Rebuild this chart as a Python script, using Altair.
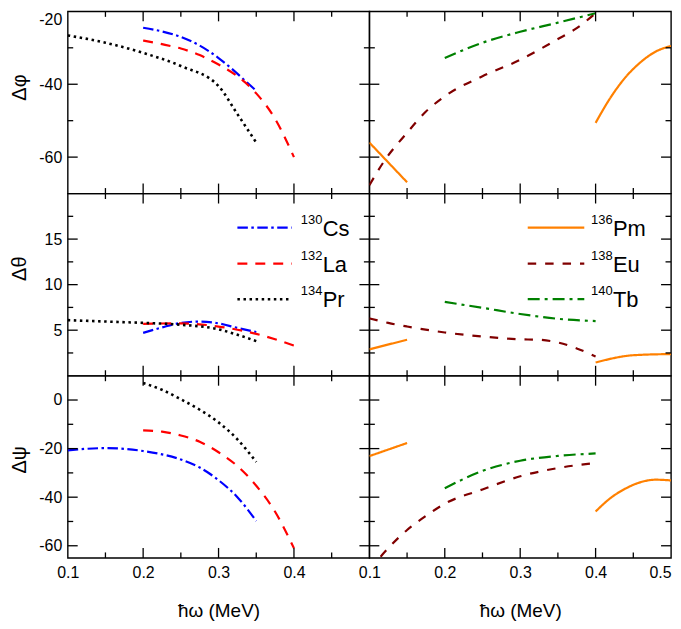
import altair as alt
import pandas as pd

FONT = "Liberation Sans"

# ---------------- axes / ticks ----------------
X_DOMAIN = [0.1, 0.5]
X_MAJOR = [0.2, 0.3, 0.4]
X_MINOR = [0.15, 0.25, 0.35, 0.45]
X_LABELS_LEFT = [0.1, 0.2, 0.3, 0.4]
X_LABELS_RIGHT = [0.1, 0.2, 0.3, 0.4, 0.5]

# ---------------- Δφ ----------------
phi_Cs_x = [0.20, 0.225, 0.25, 0.275, 0.30, 0.32, 0.335, 0.35]
phi_Cs_y = [-24.5, -25.5, -27.0, -29.4, -32.8, -36.2, -39.0, -41.8]
phi_La_x = [0.20, 0.225, 0.25, 0.275, 0.30, 0.325, 0.35, 0.375, 0.40]
phi_La_y = [-28.0, -29.0, -30.2, -32.0, -34.6, -37.8, -42.5, -49.5, -60.0]
phi_Pr_x = [0.10, 0.15, 0.20, 0.25, 0.30, 0.325, 0.35]
phi_Pr_y = [-26.6, -28.6, -31.4, -35.0, -40.5, -48.2, -56.0]
phi_Pm_a_x = [0.10, 0.15]
phi_Pm_a_y = [-56.0, -66.9]
phi_Pm_b_x = [0.40, 0.42, 0.44, 0.46, 0.48, 0.50]
phi_Pm_b_y = [-50.6, -43.6, -38.0, -33.9, -31.0, -29.5]
phi_Eu_x = [0.10, 0.12, 0.15, 0.175, 0.20, 0.25, 0.30, 0.35, 0.375, 0.40]
phi_Eu_y = [-67.7, -61.0, -53.3, -47.5, -43.3, -37.8, -33.3, -27.6, -24.6, -20.5]
phi_Tb_x = [0.20, 0.25, 0.30, 0.35, 0.40]
phi_Tb_y = [-32.8, -28.6, -25.6, -23.1, -20.5]

# ---------------- Δθ ----------------
th_Cs_x = [0.20, 0.225, 0.25, 0.275, 0.30, 0.325, 0.35]
th_Cs_y = [4.7, 5.3, 5.8, 5.95, 5.75, 5.25, 4.8]
th_La_x = [0.20, 0.25, 0.30, 0.325, 0.35, 0.375, 0.40]
th_La_y = [5.7, 5.75, 5.4, 5.05, 4.6, 4.0, 3.3]
th_Pr_x = [0.10, 0.15, 0.20, 0.25, 0.30, 0.325, 0.35]
th_Pr_y = [6.1, 5.95, 5.8, 5.6, 5.1, 4.5, 3.8]
th_Pm_a_x = [0.10, 0.15]
th_Pm_a_y = [2.9, 3.95]
th_Pm_b_x = [0.40, 0.45, 0.50]
th_Pm_b_y = [1.45, 2.25, 2.38]
th_Eu_x = [0.10, 0.125, 0.15, 0.20, 0.25, 0.30, 0.325, 0.35, 0.375, 0.40]
th_Eu_y = [6.3, 5.8, 5.4, 4.75, 4.3, 4.0, 3.95, 3.65, 3.0, 2.1]
th_Tb_x = [0.20, 0.25, 0.30, 0.35, 0.40]
th_Tb_y = [8.1, 7.45, 6.78, 6.25, 6.0]

# ---------------- Δψ ----------------
ps_Cs_x = [0.10, 0.15, 0.20, 0.25, 0.275, 0.30, 0.325, 0.35]
ps_Cs_y = [-20.7, -19.8, -21.0, -24.5, -27.8, -33.0, -40.0, -49.8]
ps_La_x = [0.20, 0.225, 0.25, 0.275, 0.30, 0.325, 0.35, 0.375, 0.40]
ps_La_y = [-12.5, -13.0, -14.6, -17.2, -21.5, -27.2, -35.3, -46.0, -61.0]
ps_Pr_x = [0.20, 0.225, 0.25, 0.275, 0.30, 0.325, 0.35]
ps_Pr_y = [7.0, 4.2, 0.3, -4.0, -9.2, -16.2, -25.5]
ps_Pm_a_x = [0.10, 0.15]
ps_Pm_a_y = [-23.1, -17.7]
ps_Pm_b_x = [0.40, 0.42, 0.44, 0.46, 0.48, 0.50]
ps_Pm_b_y = [-45.9, -40.3, -36.4, -33.8, -32.8, -33.1]
ps_Eu_x = [0.10, 0.125, 0.15, 0.175, 0.20, 0.25, 0.30, 0.35, 0.40]
ps_Eu_y = [-70.0, -61.0, -53.5, -47.7, -42.7, -36.8, -31.4, -28.0, -25.9]
ps_Tb_x = [0.20, 0.25, 0.30, 0.35, 0.40]
ps_Tb_y = [-36.3, -29.2, -25.0, -23.0, -22.0]

# ---------------- legends ----------------
LEG_LEFT_KEYS = ["Cs", "La", "Pr"]
LEG_LEFT_NUM = ["130", "132", "134"]
LEG_RIGHT_KEYS = ["Pm", "Eu", "Tb"]
LEG_RIGHT_NUM = ["136", "138", "140"]

STYLE = {
    "Cs": dict(color="#0000ff", strokeDash=[10.5, 3.5, 2.5, 3.5], strokeWidth=2.2, strokeCap="butt"),
    "La": dict(color="#ff0000", strokeDash=[10, 8], strokeWidth=2.2, strokeCap="butt"),
    "Pr": dict(color="#000000", strokeDash=[2.5, 3.6], strokeWidth=2.6, strokeCap="butt"),
    "Pm": dict(color="#ff8000", strokeDash=[1, 0], strokeWidth=2.2, strokeCap="butt"),
    "Eu": dict(color="#800000", strokeDash=[8.5, 9], strokeWidth=2.2, strokeCap="butt"),
    "Tb": dict(color="#008000", strokeDash=[12, 5, 3, 5], strokeWidth=2.2, strokeCap="butt"),
}

W, H = 303, 183
MAJ, MIN = 10, 5.5
LEG_Y = [16.25, 12.3, 8.4]
HYPHEN_LABEL = "datum.value < 0 ? '-' + format(-datum.value, 'd') : format(datum.value, 'd')"


def panel(series, ydom, ymaj, ymin, ytitle, title_y, left, bottom, legend=None):
    xs = alt.Scale(domain=X_DOMAIN, nice=False, zero=False)
    ys = alt.Scale(domain=ydom, nice=False, zero=False)
    if bottom:
        if left:
            xaxis = alt.Axis(values=X_LABELS_LEFT, format=".1f", ticks=False, tickSize=0,
                             domain=False, grid=False, labelFontSize=16, labelPadding=7,
                             labelFlush=False, title="ħω (MeV)", titleFontSize=19,
                             titleFontWeight="normal", titlePadding=21)
        else:
            xaxis = alt.Axis(values=X_LABELS_RIGHT, format=".1f", ticks=False, tickSize=0,
                             domain=False, grid=False, labelFontSize=16, labelPadding=7,
                             labelFlush=False,
                             labelAlign={"condition": {"test": "datum.value > 0.45", "value": "right"},
                                         "value": "center"},
                             title="ħω (MeV)", titleFontSize=19,
                             titleFontWeight="normal", titlePadding=21)
    else:
        xaxis = None
    if left:
        yaxis = alt.Axis(values=ymaj, ticks=False, tickSize=0, domain=False, grid=False,
                         labelFontSize=16, labelPadding=6, labelFlush=1, labelExpr=HYPHEN_LABEL,
                         title=ytitle, titleFontSize=20, titleFontWeight="normal",
                         titleX=-48.5, titleY=title_y, titleBaseline="middle")
    else:
        yaxis = None

    def X(f):
        return alt.X(f, scale=xs, axis=xaxis)

    def Y(f):
        return alt.Y(f, scale=ys, axis=yaxis)

    layers = []
    for key, segs in series:
        st = STYLE[key]
        rows = []
        for si, (xv, yv) in enumerate(segs):
            for a, b in zip(xv, yv):
                rows.append({"x": a, "y": b, "seg": si})
        df = pd.DataFrame(rows)
        layers.append(
            alt.Chart(df).mark_line(clip=True, interpolate="monotone", **st).encode(
                x=X("x:Q"), y=Y("y:Q"), detail="seg:N",
            )
        )

    # inward ticks on all four sides
    for vals, L in ((X_MAJOR, MAJ), (X_MINOR, MIN)):
        base = alt.Chart(pd.DataFrame({"v": vals})).mark_rule(color="black", strokeWidth=1.3)
        layers.append(base.encode(x=X("v:Q"), y=alt.value(0), y2=alt.value(L)))
        layers.append(base.encode(x=X("v:Q"), y=alt.value(H), y2=alt.value(H - L)))
    for vals, L in ((ymaj, MAJ), (ymin, MIN)):
        inner = [v for v in vals if ydom[0] < v < ydom[1]]
        base = alt.Chart(pd.DataFrame({"v": inner})).mark_rule(color="black", strokeWidth=1.3)
        layers.append(base.encode(y=Y("v:Q"), x=alt.value(0), x2=alt.value(L)))
        layers.append(base.encode(y=Y("v:Q"), x=alt.value(W), x2=alt.value(W - L)))

    if legend is not None:
        keys, nums, lx1, lx2, tx = legend
        for i, key in enumerate(keys):
            st = STYLE[key]
            d = pd.DataFrame({"x": [lx1], "x2": [lx2], "y": [LEG_Y[i]]})
            layers.append(
                alt.Chart(d).mark_rule(**st).encode(x=X("x:Q"), x2="x2:Q", y=Y("y:Q"))
            )
        td = pd.DataFrame({"x": [tx] * 3, "y": LEG_Y, "num": nums, "sym": keys})
        layers.append(
            alt.Chart(td).mark_text(align="left", baseline="alphabetic", fontSize=13, dy=-4,
                                    font=FONT, color="black").encode(
                x=X("x:Q"), y=Y("y:Q"), text="num:N")
        )
        layers.append(
            alt.Chart(td).mark_text(align="left", baseline="alphabetic", fontSize=22, dx=22, dy=8,
                                    font=FONT, color="black").encode(
                x=X("x:Q"), y=Y("y:Q"), text="sym:N")
        )

    return alt.layer(*layers).properties(width=W, height=H)


p_phi_L = panel([("Cs", [(phi_Cs_x, phi_Cs_y)]), ("La", [(phi_La_x, phi_La_y)]), ("Pr", [(phi_Pr_x, phi_Pr_y)])],
                [-70, -20], [-60, -40, -20], [-50, -30], "Δφ", 76, True, False)
p_phi_R = panel([("Pm", [(phi_Pm_a_x, phi_Pm_a_y), (phi_Pm_b_x, phi_Pm_b_y)]), ("Eu", [(phi_Eu_x, phi_Eu_y)]),
                 ("Tb", [(phi_Tb_x, phi_Tb_y)])],
                [-70, -20], [-60, -40, -20], [-50, -30], "Δφ", 76, False, False)
p_th_L = panel([("Cs", [(th_Cs_x, th_Cs_y)]), ("La", [(th_La_x, th_La_y)]), ("Pr", [(th_Pr_x, th_Pr_y)])],
               [0, 20], [5, 10, 15], [2.5, 7.5, 12.5, 17.5], "Δθ", 75, True, False,
               legend=(LEG_LEFT_KEYS, LEG_LEFT_NUM, 0.325, 0.397, 0.409))
p_th_R = panel([("Pm", [(th_Pm_a_x, th_Pm_a_y), (th_Pm_b_x, th_Pm_b_y)]), ("Eu", [(th_Eu_x, th_Eu_y)]),
                ("Tb", [(th_Tb_x, th_Tb_y)])],
               [0, 20], [5, 10, 15], [2.5, 7.5, 12.5, 17.5], "Δθ", 75, False, False,
               legend=(LEG_RIGHT_KEYS, LEG_RIGHT_NUM, 0.310, 0.385, 0.394))
p_ps_L = panel([("Cs", [(ps_Cs_x, ps_Cs_y)]), ("La", [(ps_La_x, ps_La_y)]), ("Pr", [(ps_Pr_x, ps_Pr_y)])],
               [-65, 10], [-60, -40, -20, 0], [-50, -30, -10], "Δψ", 84, True, True)
p_ps_R = panel([("Pm", [(ps_Pm_a_x, ps_Pm_a_y), (ps_Pm_b_x, ps_Pm_b_y)]), ("Eu", [(ps_Eu_x, ps_Eu_y)]),
                ("Tb", [(ps_Tb_x, ps_Tb_y)])],
               [-65, 10], [-60, -40, -20, 0], [-50, -30, -10], "Δψ", 84, False, True)

chart = alt.concat(p_phi_L, p_phi_R, p_th_L, p_th_R, p_ps_L, p_ps_R,
                   columns=2, spacing=0, bounds="flush").properties(
    padding={"left": 0, "top": 0, "right": 0, "bottom": 0},
    background="white",
).configure_view(stroke="black", strokeWidth=1.4).configure_axis(
    labelFont=FONT, titleFont=FONT, labelColor="black", titleColor="black"
)

chart.save("out.html", embed_options={"renderer": "svg", "actions": False})
